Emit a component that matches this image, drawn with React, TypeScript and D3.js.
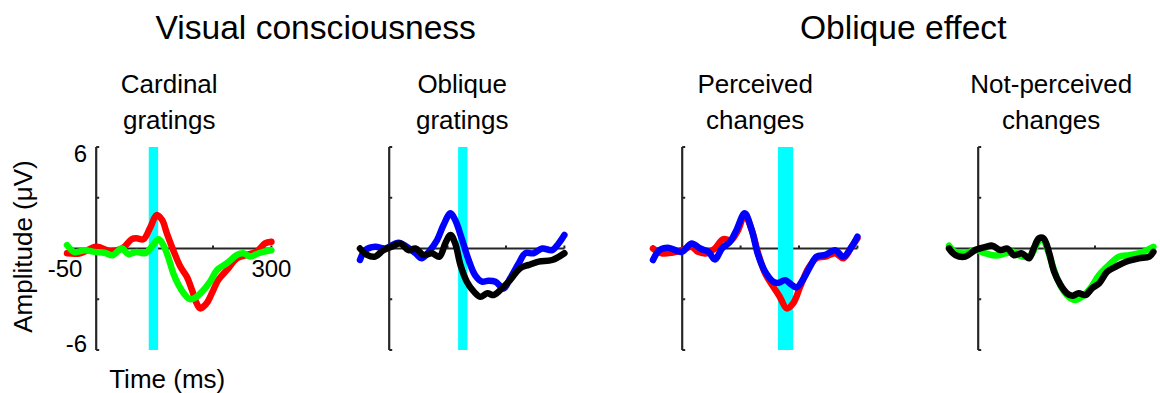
import React from "react";
import * as d3 from "d3";

// ERP time courses (ms, µV)
const cardinalRed: [number, number][] = [
  [-50, -0.28], [-27, -0.28], [0, 0.1], [24, -0.15], [44, 0.0], [61, 0.55], [69, 0.6], [81, 0.55],
  [92, 1.2], [104, 1.98], [113, 1.68], [121, 0.9], [132, -0.1], [144, -1.07], [155, -1.66], [164, -2.45],
  [172, -3.24], [178, -3.54], [189, -3.24], [198, -2.65], [209, -1.86], [224, -1.27], [241, -0.58],
  [258, -0.38], [275, -0.18], [289, 0.3], [300, 0.4],
];
const cardinalGreen: [number, number][] = [
  [-50, 0.2], [-37, -0.21], [-20, -0.1], [-3, -0.2], [14, -0.25], [28, -0.4], [44, 0.0], [55, -0.33],
  [69, -0.2], [84, -0.28], [95, 0.11], [107, 0.55], [115, 0.2], [124, -0.58], [132, -1.47], [141, -2.16],
  [150, -2.65], [161, -3.0], [172, -2.85], [184, -2.45], [195, -1.96], [207, -1.27], [224, -0.87],
  [241, -0.38], [252, -0.28], [264, -0.48], [278, -0.28], [300, -0.1],
];
const obliqueBlue: [number, number][] = [
  [-50, -0.68], [-41, -0.1], [-24, 0.1], [-7, 0.0], [16, 0.34], [30, 0.1], [45, -0.28], [56, -0.58],
  [68, -0.18], [82, 0.5], [93, 1.39], [105, 2.08], [113, 1.68], [125, 0.5], [136, -0.68], [147, -1.57],
  [159, -1.96], [170, -1.9], [182, -1.96], [196, -2.36], [207, -1.77], [222, -0.87], [233, -0.28],
  [247, -0.28], [262, 0.0], [279, -0.1], [290, 0.3], [300, 0.8],
];
const obliqueBlack: [number, number][] = [
  [-50, 0.0], [-38, -0.38], [-24, -0.48], [-10, -0.1], [4, 0.1], [19, 0.3], [33, -0.1], [45, 0.0],
  [59, -0.38], [73, -0.28], [86, -0.48], [96, 0.3], [105, 0.8], [113, 0.3], [122, -0.97], [133, -1.96],
  [145, -2.55], [156, -2.85], [168, -2.65], [179, -2.75], [193, -2.36], [207, -1.87], [224, -1.17],
  [239, -0.97], [256, -0.78], [279, -0.68], [300, -0.28],
];
const perceivedRed: [number, number][] = [
  [-50, 0.0], [-35, -0.28], [-18, -0.25], [-1, -0.1], [16, 0.1], [27, -0.2], [42, -0.28], [56, 0.0],
  [70, 0.55], [84, 0.5], [96, 1.1], [107, 1.98], [119, 1.1], [130, -0.28], [142, -1.47], [156, -2.26],
  [167, -2.85], [179, -3.54], [190, -3.24], [202, -2.26], [216, -1.17], [230, -0.58], [245, -0.48],
  [262, -0.28], [276, -0.58], [290, 0.1], [300, 0.6],
];
const perceivedBlue: [number, number][] = [
  [-50, -0.68], [-39, -0.1], [-24, 0.05], [-1, -0.2], [16, 0.3], [31, 0.0], [45, -0.2], [56, -0.65],
  [68, 0.0], [82, 0.4], [93, 1.1], [107, 2.08], [119, 1.1], [130, -0.38], [142, -1.37], [156, -1.96],
  [165, -2.03], [176, -1.87], [188, -2.16], [196, -2.3], [208, -1.77], [219, -1.07], [230, -0.48],
  [245, -0.38], [262, -0.1], [276, -0.48], [290, 0.1], [300, 0.7],
];
const notPerceivedGreen: [number, number][] = [
  [-50, 0.17], [-39, -0.2], [-22, -0.29], [-5, -0.09], [13, -0.29], [30, -0.42], [47, -0.29], [61, -0.2],
  [75, -0.48], [90, -0.39], [101, 0.3], [110, 0.6], [118, 0.0], [127, -0.97], [135, -1.76], [147, -2.55],
  [158, -2.94], [167, -3.04], [178, -2.85], [192, -2.35], [207, -1.57], [224, -0.97], [241, -0.48],
  [258, -0.39], [275, -0.29], [300, 0.1],
];
const notPerceivedBlack: [number, number][] = [
  [-50, 0.0], [-39, -0.39], [-22, -0.48], [-5, -0.09], [13, 0.1], [24, 0.17], [38, -0.09], [50, 0.0],
  [61, -0.39], [75, -0.29], [87, -0.58], [95, 0.0], [104, 0.6], [112, 0.6], [121, -0.2], [130, -1.37],
  [141, -2.16], [152, -2.65], [161, -2.79], [172, -2.65], [184, -2.75], [195, -2.35], [207, -2.06],
  [221, -1.37], [236, -1.07], [253, -0.78], [275, -0.58], [293, -0.48], [300, -0.2],
];

const groupTitles = ["Visual consciousness", "Oblique effect"];
const panelTitles = [["Cardinal", "gratings"], ["Oblique", "gratings"], ["Perceived", "changes"], ["Not-perceived", "changes"]];
const highlightWindows: ([number, number] | null)[] = [[90, 106], [118, 134], [164, 190], null];
const yTicks = [-6, -3, 0, 3, 6];
const xTicks = [-50, 0, 100, 200, 300];

const panels = [
  { series: [cardinalRed, cardinalGreen], colors: ["#ff0000", "#00ff00"] },
  { series: [obliqueBlue, obliqueBlack], colors: ["#0000ff", "#000000"] },
  { series: [perceivedRed, perceivedBlue], colors: ["#ff0000", "#0000ff"] },
  { series: [notPerceivedGreen, notPerceivedBlack], colors: ["#00ff00", "#000000"] },
];

const panelLeft = [67, 360, 653, 949];
const panelWidth = 204.4;
const axisColor = "#262626";
const font = "'Liberation Sans', Arial, Helvetica, sans-serif";

const y = d3.scaleLinear().domain([-6, 6]).range([350, 147]);

const Panel = ({ idx }: { idx: number }) => {
  const x = d3.scaleLinear().domain([-50, 300]).range([panelLeft[idx], panelLeft[idx] + panelWidth]);
  const line = d3
    .line<[number, number]>()
    .x((d) => x(d[0]))
    .y((d) => y(d[1]))
    .curve(d3.curveCatmullRom.alpha(0.5));
  const win = highlightWindows[idx];
  const x0 = x(0);
  const cx = (x(-50) + x(300)) / 2;
  return (
    <g>
      <text x={cx} y={93} textAnchor="middle" fontSize={26}>{panelTitles[idx][0]}</text>
      <text x={cx} y={128.5} textAnchor="middle" fontSize={26}>{panelTitles[idx][1]}</text>
      {/* axes through the origin */}
      <line x1={x0} x2={x0} y1={y(6)} y2={y(-6)} stroke={axisColor} strokeWidth={2.2} />
      {yTicks.map((t) => (
        <line key={t} x1={x0} x2={x0 + 3} y1={y(t)} y2={y(t)} stroke={axisColor} strokeWidth={2} />
      ))}
      <line x1={x(-50)} x2={x(300)} y1={y(0)} y2={y(0)} stroke={axisColor} strokeWidth={2.2} />
      {xTicks.map((t) => (
        <line key={t} x1={x(t)} x2={x(t)} y1={y(0)} y2={y(0) - 3} stroke={axisColor} strokeWidth={2} />
      ))}
      {win && (
        <rect x={x(win[0])} y={y(6)} width={x(win[1]) - x(win[0])} height={y(-6) - y(6)} fill="#00ffff" />
      )}
      {panels[idx].series.map((s, i) => (
        <path key={i} d={line(s) ?? ""} fill="none" stroke={panels[idx].colors[i]} strokeWidth={6.5}
          strokeLinejoin="round" strokeLinecap="round" />
      ))}
      {idx === 0 && (
        <g fontSize={24}>
          <text x={87} y={162} textAnchor="end">6</text>
          <text x={87} y={352} textAnchor="end">-6</text>
          <text x={x(-50) - 2} y={277} textAnchor="middle">-50</text>
          <text x={x(300)} y={277} textAnchor="middle">300</text>
          <text x={cx - 2} y={388} textAnchor="middle" fontSize={26}>Time (ms)</text>
          <text transform={`translate(32,${(y(6) + y(-6)) / 2 - 2}) rotate(-90)`} textAnchor="middle" fontSize={26}>
            Amplitude (μV)
          </text>
        </g>
      )}
    </g>
  );
};

export default function App() {
  const groupCenters = [
    (panelLeft[0] + panelLeft[1] + panelWidth) / 2,
    (panelLeft[2] + panelLeft[3] + panelWidth) / 2,
  ];
  return (
    <svg width={1160} height={393} style={{ position: "absolute", left: 0, top: 0, background: "#fff" }}
      fontFamily={font} fill="#000">
      {groupTitles.map((t, i) => (
        <text key={t} x={groupCenters[i]} y={39} textAnchor="middle" fontSize={33.6}>{t}</text>
      ))}
      {panels.map((_, i) => (
        <Panel key={i} idx={i} />
      ))}
    </svg>
  );
}
